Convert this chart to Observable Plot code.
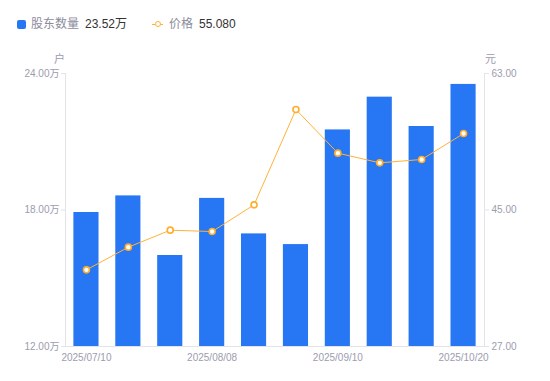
<!DOCTYPE html>
<html><head><meta charset="utf-8">
<script src="https://cdn.jsdelivr.net/npm/d3@7"></script>
<script src="https://cdn.jsdelivr.net/npm/@observablehq/plot@0.6"></script>
<style>
body{margin:0;background:#fff;font-family:"Liberation Sans","Noto Sans CJK SC",sans-serif;}
#legend{position:relative;height:45px;font-size:12px;line-height:12px;}
#legend span{position:absolute;top:18px;white-space:nowrap;}
.sq{position:absolute;left:17px;top:20px;width:9px;height:9px;background:#2777f5;border-radius:2px;}
.ln{position:absolute;left:152px;top:24px;width:11px;height:1px;background:#ffb237;}
.dt{position:absolute;left:155px;top:21px;width:4px;height:4px;border:1.5px solid #ffb237;background:#fff;border-radius:50%;}
.lab{color:#8c8c9c;}
.val{color:#333;}
</style></head><body>
<div id="legend">
  <div class="sq"></div>
  <span class="lab" style="left:31px">股东数量</span>
  <span class="val" style="left:85px">23.52万</span>
  <div class="ln"></div><div class="dt"></div>
  <span class="lab" style="left:169px">价格</span>
  <span class="val" style="left:199px">55.080</span>
</div>
<div id="chart"></div>
<script>
const dates = ["2025/07/10","2025/07/20","2025/07/31","2025/08/08","2025/08/20","2025/08/31","2025/09/10","2025/09/19","2025/09/30","2025/10/20"];
const holders = [17.89, 18.62, 16.00, 18.51, 16.95, 16.48, 21.52, 22.96, 21.67, 23.52]; // 万户
const prices = [37.11, 40.10, 42.34, 42.16, 45.68, 58.25, 52.50, 51.22, 51.66, 55.08]; // 元
const xTickLabels = ["2025/07/10","2025/08/08","2025/09/10","2025/10/20"];
const leftTicks = [12, 18, 24];
const rightTicks = [27, 45, 63];

const hMin = 12, hMax = 24, pMin = 27, pMax = 63;
const toH = p => hMin + (p - pMin) / (pMax - pMin) * (hMax - hMin);
const toP = h => pMin + (h - hMin) / (hMax - hMin) * (pMax - pMin);
const data = dates.map((d, i) => ({date: d, base: hMin, h: holders[i], ph: toH(prices[i])}));

const axisColor = "#e3e3e8";
const textColor = "#9c9cae";
const chart = Plot.plot({
  width: 550, height: 336,
  marginTop: 28, marginBottom: 35, marginLeft: 65, marginRight: 66,
  style: {fontFamily: '"Liberation Sans","Noto Sans CJK SC",sans-serif', fontSize: "10px", color: textColor, background: "transparent"},
  x: {type: "band", domain: dates, paddingInner: 0.4, paddingOuter: 0.2, round: false, axis: null, label: null},
  y: {domain: [hMin, hMax], axis: null, label: null},
  marks: [
    Plot.barY(data, {x: "date", y1: "base", y2: "h", fill: "#2777f5"}),
    Plot.frame({anchor: "left", stroke: axisColor}),
    Plot.frame({anchor: "right", stroke: axisColor}),
    Plot.frame({anchor: "bottom", stroke: axisColor}),
    Plot.axisY(leftTicks, {anchor: "left", label: null, tickSize: 4, tickPadding: 2, stroke: axisColor, fill: textColor, tickFormat: d => d.toFixed(2) + "万"}),
    Plot.axisY(rightTicks.map(toH), {anchor: "right", label: null, tickSize: 4, tickPadding: 3, stroke: axisColor, fill: textColor, tickFormat: d => toP(d).toFixed(2)}),
    Plot.axisX(xTickLabels, {anchor: "bottom", label: null, tickSize: 0, tickPadding: 7, fill: textColor}),
    Plot.line(data, {x: "date", y: "ph", stroke: "#ffb237", strokeWidth: 1}),
    Plot.dot(data, {x: "date", y: "ph", r: 3, fill: "#fff", stroke: "#ffad2a", strokeWidth: 1.6}),
    Plot.text(["户"], {frameAnchor: "top-left", textAnchor: "middle", dx: -6, dy: -18, fontSize: 11, fill: textColor}),
    Plot.text(["元"], {frameAnchor: "top-right", textAnchor: "middle", dx: 6, dy: -18, fontSize: 11, fill: textColor})
  ]
});
document.getElementById("chart").appendChild(chart);
</script>
</body></html>
